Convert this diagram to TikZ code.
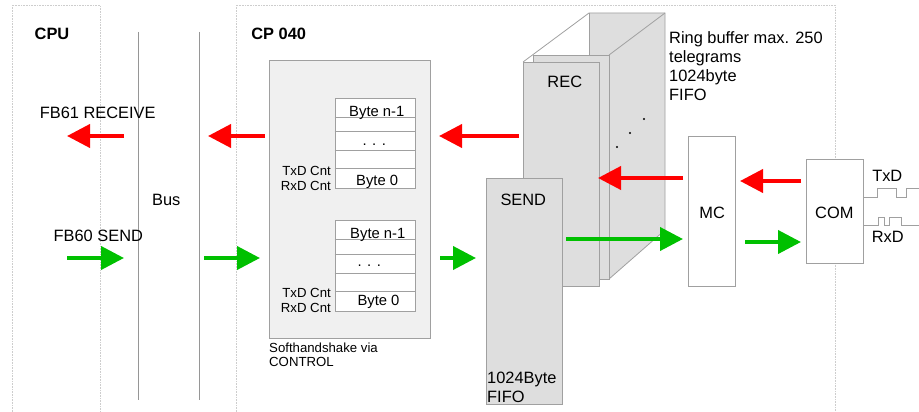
\documentclass[tikz,border=0pt]{standalone}
\usepackage{fontspec}
\setmainfont{Liberation Sans}
\usetikzlibrary{arrows.meta}
\definecolor{sigred}{RGB}{255,0,0}
\definecolor{siggreen}{RGB}{0,192,0}
\definecolor{edgegray}{RGB}{160,160,160}
\definecolor{busgray}{RGB}{150,150,150}
\definecolor{panelgray}{RGB}{222,222,222}
\definecolor{softgray}{RGB}{240,240,240}
\definecolor{framegray}{RGB}{205,205,205}

\begin{document}
\begin{tikzpicture}[x=1pt,y=-1pt,
  txt/.style={inner sep=0pt,anchor=base,font=\fontsize{16.4}{19}\selectfont},
  headtxt/.style={inner sep=0pt,anchor=base,font=\fontsize{16.4}{19}\selectfont\bfseries},
  bytetxt/.style={inner sep=0pt,anchor=base,font=\fontsize{14.8}{17}\selectfont},
  cnttxt/.style={inner sep=0pt,anchor=base east,font=\fontsize{13.2}{15}\selectfont},
  blocktxt/.style={inner sep=0pt,anchor=north west,align=left,font=\fontsize{16.4}{19}\selectfont},
  box/.style={draw=edgegray,inner sep=0pt,line width=0.8pt},
  recv/.style={draw=sigred,line width=4pt,-{Triangle[length=23pt,width=23pt]}},
  send/.style={draw=siggreen,line width=4pt,-{Triangle[length=23pt,width=23pt]}},
  frame/.style={draw=framegray,densely dotted,line width=0.6pt}]

\useasboundingbox (0,0) rectangle (919,412);
\draw[frame] (12,412) -- (12,5) -- (100,5) -- (100,412);
\draw[frame] (236,412) -- (236,5) -- (835,5) -- (835,412);
\draw[busgray] (138,32) -- (138,400);
\draw[busgray] (199,32) -- (199,400);

\node[headtxt] (cpu) at (52,39.3) {CPU};
\node[headtxt] (cp) at (278.7,39.3) {CP 040};
\node[txt] (fbrcv) at (97.7,118.3) {FB61 RECEIVE};
\node[txt] (fbsnd) at (98.3,241) {FB60 SEND};
\node[txt] (bus) at (166.3,205) {Bus};

\node[box,fill=softgray,minimum width=161pt,minimum height=278pt] (soft) at (349.5,199) {};
\node[box,fill=white,minimum width=80pt,minimum height=90pt] (rxtab) at (375,143) {};
\node[box,fill=white,minimum width=80pt,minimum height=91pt] (txtab) at (375,265.5) {};
\foreach \y in {117,131,150,168}
  \draw[edgegray,line width=0.8pt] (rxtab.west |- 0,\y) -- (rxtab.east |- 0,\y);
\foreach \y in {239,254,273,291}
  \draw[edgegray,line width=0.8pt] (txtab.west |- 0,\y) -- (txtab.east |- 0,\y);
\node[bytetxt] (rxlast) at (376.8,116.3) {Byte n-1};
\node[bytetxt] (rxdots) at (374.3,145) {. . .};
\node[bytetxt] (rxfirst) at (377.2,185.5) {Byte 0};
\node[bytetxt] (txlast) at (377.8,238.8) {Byte n-1};
\node[bytetxt] (txdots) at (369.3,266.5) {. . .};
\node[bytetxt] (txfirst) at (378.5,305) {Byte 0};
\node[cnttxt] (rxtx) at (331,175) {TxD Cnt};
\node[cnttxt] (rxrx) at (331,190.5) {RxD Cnt};
\node[cnttxt] (txtx) at (331,297.7) {TxD Cnt};
\node[cnttxt] (txrx) at (331,312.3) {RxD Cnt};
\node[inner sep=0pt,anchor=north west,align=left,font=\fontsize{13.2}{14}\selectfont] (shake) at (269,342.5) {Softhandshake via\\CONTROL};

\fill[panelgray] (589,13) -- (665,13) -- (665,230) -- (609,279) -- (589,279) -- cycle;
\draw[edgegray,line width=0.8pt] (523,62) -- (589,13) -- (665,13) -- (665,230) -- (609,279);
\draw[edgegray,line width=0.8pt] (609,55) -- (665,13);
\draw[edgegray,line width=0.8pt] (589,13) -- (589,55);
\foreach \x/\y in {617/147,630/133,644/119}
  \fill (\x,\y) circle (1.1pt);
\node[box,fill=panelgray,minimum width=76pt,minimum height=224pt] (recback) at (571,167) {};
\node[box,fill=panelgray,minimum width=76pt,minimum height=224pt] (rec) at (561,174) {};
\node[txt] (rectxt) at (564.8,87.3) {REC};
\node[blocktxt] (ring) at (669,31) {Ring buffer max. 250\\telegrams\\1024byte\\FIFO};

\node[box,fill=panelgray,minimum width=76pt,minimum height=226pt] (sendbuf) at (524,291) {};
\node[txt] (sendtxt) at (523.3,205) {SEND};
\node[blocktxt] (sendfifo) at (487,372) {1024Byte\\FIFO};

\node[box,fill=white,minimum width=47pt,minimum height=150pt] (mc) at (711.5,211) {};
\node[txt] (mctxt) at (712.2,218.3) {MC};
\node[box,fill=white,minimum width=57pt,minimum height=104pt] (com) at (834.5,211) {};
\node[txt] (comtxt) at (834.3,218.3) {COM};
\node[txt] (txd) at (887.3,181.7) {TxD};
\node[txt] (rxd) at (887.7,242.7) {RxD};
\draw[edgegray,line width=0.8pt] (com.east |- 0,197) -- (877,197) -- (877,188) -- (896,188) -- (896,197) -- (906,197) -- (906,188) -- (919,188);
\draw[edgegray,line width=0.8pt] (com.east |- 0,225) -- (878,225) -- (878,217) -- (884,217) -- (884,225) -- (889,225) -- (889,217) -- (901,217) -- (901,225) -- (919,225);

\coordinate (rcvAs) at (124,136);
\coordinate (rcvAe) at (67,136);
\coordinate (rcvBs) at (265,136);
\coordinate (rcvBe) at (208,136);
\coordinate (rcvCs) at (519,136);
\coordinate (rcvCe) at (439,136);
\coordinate (rcvDs) at (683,178);
\coordinate (rcvDe) at (598,178);
\coordinate (rcvEs) at (801,181);
\coordinate (rcvEe) at (740,181);
\coordinate (sndAs) at (67,258);
\coordinate (sndAe) at (124,258);
\coordinate (sndBs) at (204,258);
\coordinate (sndBe) at (260,258);
\coordinate (sndCs) at (440,258);
\coordinate (sndCe) at (476,258);
\coordinate (sndDs) at (566,239);
\coordinate (sndDe) at (683,239);
\coordinate (sndEs) at (745,242);
\coordinate (sndEe) at (801,242);
\draw[recv] (rcvAs) -- (rcvAe);
\draw[recv] (rcvBs) -- (rcvBe);
\draw[recv] (rcvCs) -- (rcvCe);
\draw[recv] (rcvDs) -- (rcvDe);
\draw[recv] (rcvEs) -- (rcvEe);
\draw[send] (sndAs) -- (sndAe);
\draw[send] (sndBs) -- (sndBe);
\draw[send] (sndCs) -- (sndCe);
\draw[send] (sndDs) -- (sndDe);
\draw[send] (sndEs) -- (sndEe);
\end{tikzpicture}
\end{document}
